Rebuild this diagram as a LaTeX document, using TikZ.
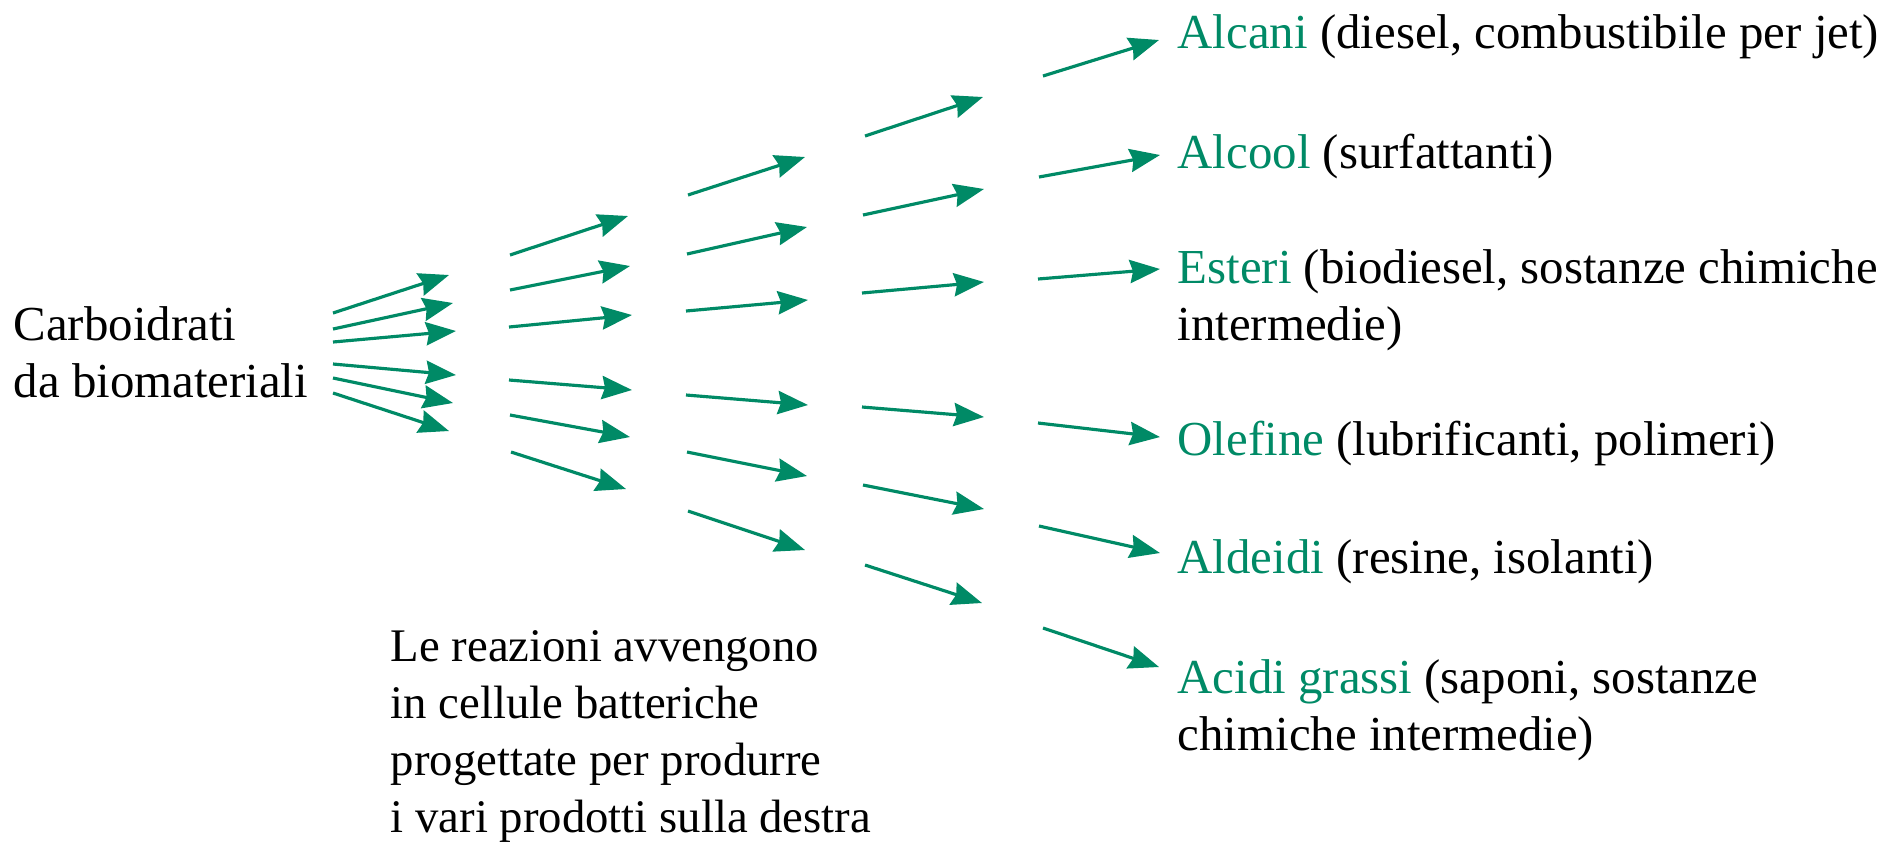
\documentclass[tikz,border=0pt]{standalone}
\usepackage{fontspec}
\setmainfont{Liberation Serif}
\usepackage{tikz}
\usetikzlibrary{arrows.meta}
\definecolor{verde}{RGB}{0,138,102}

\begin{document}
\begin{tikzpicture}[
		freccia/.style={-{Stealth[length=8.6pt,width=6.6pt,inset=0.9pt]},verde,line width=0.9pt},
		testo/.style={anchor=base west,inner sep=0pt,align=left,font=\fontsize{13.9}{16}\selectfont},
		nota/.style={testo,font=\fontsize{13.3}{16.2}\selectfont}]
		\useasboundingbox (0,0) rectangle (18.91,-8.42);
		\node[testo] (carbo) at (0.13,-3.97) {Carboidrati\\da biomateriali};
		\node[testo] (alcani) at (11.77,-0.48) {\textcolor{verde}{Alcani} (diesel, combustibile per jet)};
		\node[testo] (alcool) at (11.77,-1.68) {\textcolor{verde}{Alcool} (surfattanti)};
		\node[testo] (esteri) at (11.77,-3.40) {\textcolor{verde}{Esteri} (biodiesel, sostanze chimiche\\intermedie)};
		\node[testo] (olefine) at (11.77,-4.55) {\textcolor{verde}{Olefine} (lubrificanti, polimeri)};
		\node[testo] (aldeidi) at (11.77,-5.73) {\textcolor{verde}{Aldeidi} (resine, isolanti)};
		\node[testo] (acidi) at (11.77,-7.50) {\textcolor{verde}{Acidi grassi} (saponi, sostanze\\chimiche intermedie)};
		\node[nota] (nota) at (3.90,-8.32) {Le reazioni avvengono\\in cellule batteriche\\progettate per produrre\\i vari prodotti sulla destra};
		\foreach \xa/\ya/\xb/\yb [count=\n] in {
			3.33/-3.13/4.49/-2.75, 3.33/-3.29/4.53/-3.03, 3.33/-3.42/4.56/-3.31,
			3.33/-3.64/4.56/-3.75, 3.33/-3.78/4.53/-4.03, 3.33/-3.93/4.49/-4.31,
			5.10/-2.55/6.28/-2.16, 5.10/-2.90/6.30/-2.66, 5.09/-3.27/6.32/-3.15,
			5.09/-3.80/6.32/-3.90, 5.10/-4.15/6.30/-4.37, 5.11/-4.52/6.26/-4.89,
			6.88/-1.95/8.05/-1.57, 6.87/-2.54/8.07/-2.27, 6.86/-3.11/8.08/-3.00,
			6.86/-3.95/8.08/-4.05, 6.87/-4.52/8.07/-4.76, 6.88/-5.11/8.05/-5.50,
			8.65/-1.36/9.83/-0.97, 8.63/-2.15/9.84/-1.89, 8.62/-2.93/9.84/-2.82,
			8.62/-4.07/9.84/-4.17, 8.63/-4.85/9.84/-5.09, 8.65/-5.65/9.82/-6.03,
			10.43/-0.76/11.59/-0.40, 10.39/-1.77/11.60/-1.55, 10.38/-2.79/11.60/-2.69,
			10.38/-4.23/11.60/-4.37, 10.39/-5.26/11.60/-5.53, 10.43/-6.28/11.59/-6.67}
		{
			\coordinate (da\n) at (\xa,\ya);
			\coordinate (a\n) at (\xb,\yb);
			\draw[freccia] (da\n) -- (a\n);
		}
	\end{tikzpicture}
\end{document}
